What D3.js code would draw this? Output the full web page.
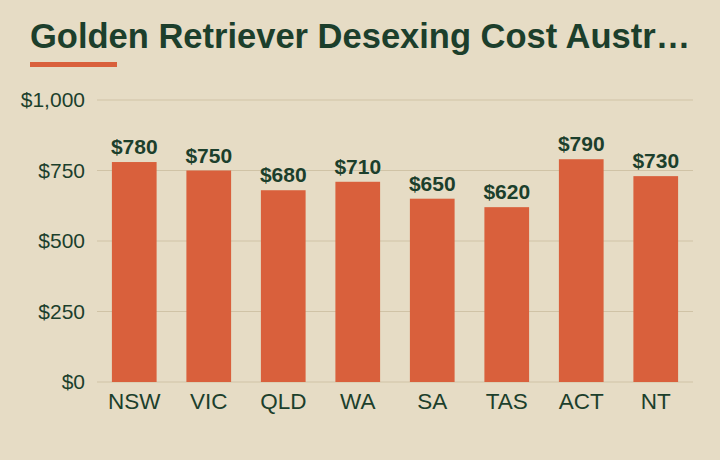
<!DOCTYPE html>
<html>
<head>
<meta charset="utf-8">
<script src="https://cdn.jsdelivr.net/npm/d3@7"></script>
<style>
  html, body { margin: 0; padding: 0; background: #e6dcc5; }
  svg { display: block; font-family: "Liberation Sans", Arial, sans-serif; }
</style>
</head>
<body>
<svg id="chart"></svg>
<script>
const states = ['NSW', 'VIC', 'QLD', 'WA', 'SA', 'TAS', 'ACT', 'NT']
const costs = [780, 750, 680, 710, 650, 620, 790, 730]
const yTicks = [0, 250, 500, 750, 1000]

const width = 720
const height = 460
const margin = {top: 100, right: 27, bottom: 78, left: 97}

const svg = d3.select('#chart')
  .attr('width', width)
  .attr('height', height)

svg.append('rect')
  .attr('width', width)
  .attr('height', height)
  .attr('fill', '#e6dcc5')

// title + accent bar
svg.append('text')
  .attr('x', 30)
  .attr('y', 48)
  .attr('fill', '#1c3f2c')
  .attr('font-size', 34.5)
  .attr('font-weight', 'bold')
  .text('Golden Retriever Desexing Cost Austr\u2026')

svg.append('rect')
  .attr('x', 30)
  .attr('y', 62)
  .attr('width', 87)
  .attr('height', 5)
  .attr('fill', '#d9603c')

const xScale = d3.scaleBand()
  .domain(states)
  .range([margin.left, width - margin.right])
  .paddingInner(0.4)
  .paddingOuter(0.2)

const yScale = d3.scaleLinear()
  .domain([0, 1000])
  .range([height - margin.bottom, margin.top])

// grid
svg.append('g')
  .selectAll('line')
  .data(yTicks)
  .enter().append('line')
  .attr('x1', margin.left)
  .attr('x2', width - margin.right)
  .attr('y1', d => yScale(d))
  .attr('y2', d => yScale(d))
  .attr('stroke', '#d0c3a6')
  .attr('stroke-width', 1)

const yAxis = svg.append('g')
  .attr('transform', `translate(${margin.left}, 0)`)
  .call(d3.axisLeft(yScale).tickValues(yTicks).tickSize(0).tickPadding(12)
    .tickFormat(d => '$' + d3.format(',')(d)))
yAxis.select('.domain').remove()
yAxis.selectAll('text')
  .attr('font-size', 21)
  .attr('font-family', '"Liberation Sans", Arial, sans-serif')
  .attr('fill', '#1c3f2c')

const xAxis = svg.append('g')
  .attr('transform', `translate(0, ${height - margin.bottom})`)
  .call(d3.axisBottom(xScale).tickSize(0).tickPadding(11))
xAxis.select('.domain').remove()
xAxis.selectAll('text')
  .attr('font-size', 22.5)
  .attr('font-family', '"Liberation Sans", Arial, sans-serif')
  .attr('fill', '#1c3f2c')

svg.selectAll('.bar')
  .data(costs)
  .enter().append('rect')
  .attr('class', 'bar')
  .attr('x', (d, i) => xScale(states[i]))
  .attr('y', d => yScale(d))
  .attr('width', xScale.bandwidth())
  .attr('height', d => yScale(0) - yScale(d))
  .attr('fill', '#d9603c')

svg.selectAll('.val')
  .data(costs)
  .enter().append('text')
  .attr('class', 'val')
  .attr('x', (d, i) => xScale(states[i]) + xScale.bandwidth() / 2)
  .attr('y', d => yScale(d) - 8)
  .attr('text-anchor', 'middle')
  .attr('font-size', 21)
  .attr('font-weight', 'bold')
  .attr('fill', '#1c3f2c')
  .text(d => '$' + d)
</script>
</body>
</html>
